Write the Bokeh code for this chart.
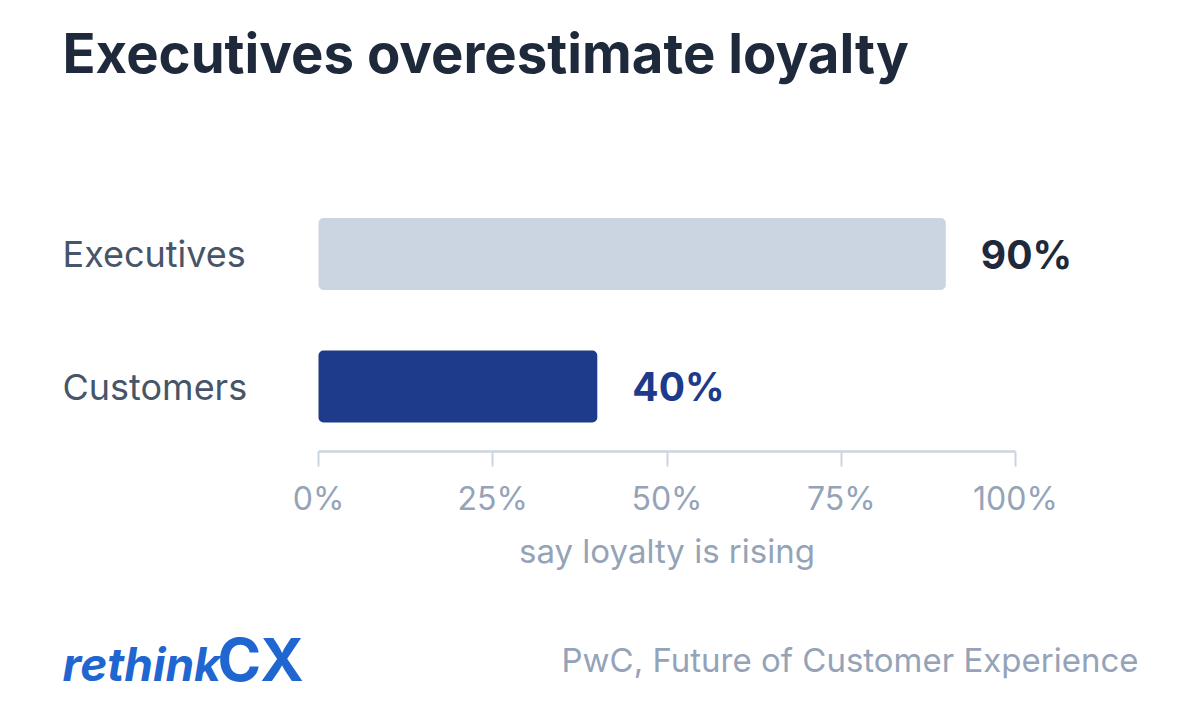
from bokeh.plotting import figure
from bokeh.layouts import column
from bokeh.models import Label, ColumnDataSource, FixedTicker, Range1d
from bokeh.core.properties import value
from bokeh.embed import file_html
from bokeh.resources import INLINE

categories = ["Customers", "Executives"]
values = [40, 90]
value_labels = ["40%", "90%"]
bar_colors = ["#1e3a8a", "#cbd5e1"]
label_colors = ["#1e3a8a", "#1e293b"]
tick_values = [0, 25, 50, 75, 100]
tick_labels = ["0%", "25%", "50%", "75%", "100%"]
title_text = "Executives overestimate loyalty"
axis_title = "say loyalty is rising"
source_text = "PwC, Future of Customer Experience"
logo_a = "rethink"
logo_b = "CX"

FONT = "Inter"
W = 1184
H1 = 530
H2 = 178

# pixel layout of the chart area
X0, X100 = 318, 1015          # pixel positions of 0% and 100%
ROW0, ROW1 = 386, 253.5       # pixel centres of the two bar rows
AXIS_Y = 451                  # pixel position of the axis line
UX = (X100 - X0) / 100.0
UY = ROW0 - ROW1


def X(px):
    return (px - X0) / UX


def Y(py):
    return (ROW0 - py) / UY


p = figure(width=W, height=H1, output_backend="svg", toolbar_location=None,
           x_range=Range1d(X(0), X(W)), y_range=Range1d(Y(AXIS_Y), Y(0)),
           y_axis_location=None,
           min_border_left=0, min_border_right=0, min_border_top=0,
           min_border_bottom=H1 - AXIS_Y)
p.outline_line_color = None
p.background_fill_color = "white"
p.border_fill_color = "white"
p.xgrid.visible = False
p.ygrid.visible = False

idx = list(range(len(categories)))
src = ColumnDataSource(dict(y=idx, cat=categories, val=values, lab=value_labels,
                            color=bar_colors, lcolor=label_colors,
                            lx=[X(62)] * len(categories)))
p.hbar(y="y", left=0, right="val", height=72 / UY, fill_color="color", line_color=None,
       source=src, border_radius=5)

p.text(x="val", y="y", text="lab", source=src, x_offset=35,
       text_font=value(FONT), text_font_style="bold", text_font_size="39px",
       text_color="lcolor", text_baseline="middle", text_align="left")
p.text(x="lx", y="y", text="cat", source=src,
       text_font=value(FONT), text_font_size="36px",
       text_color="#475569", text_baseline="middle", text_align="left")

p.add_layout(Label(x=X(62), y=Y(52.5), text=title_text,
                   text_font=FONT, text_font_style="bold", text_font_size="54.5px",
                   text_color="#1e293b", text_baseline="middle"))

xa = p.xaxis[0]
xa.bounds = (tick_values[0], tick_values[-1])
xa.ticker = FixedTicker(ticks=tick_values)
xa.major_label_overrides = {v: l for v, l in zip(tick_values, tick_labels)}
xa.axis_line_color = "#cbd5e1"
xa.axis_line_width = 2.5
xa.major_tick_line_color = "#cbd5e1"
xa.major_tick_line_width = 2
xa.major_tick_out = 15
xa.major_tick_in = 0
xa.minor_tick_line_color = None
xa.major_label_text_font = FONT
xa.major_label_text_font_size = "32px"
xa.major_label_text_color = "#94a3b8"
xa.major_label_standoff = 12

# lower part: axis title, logo and source
f = figure(width=W, height=H2, output_backend="svg", toolbar_location=None,
           x_range=Range1d(0, W), y_range=Range1d(H1 + H2, H1),
           x_axis_location=None, y_axis_location=None,
           min_border_left=0, min_border_right=0, min_border_top=0, min_border_bottom=0)
f.outline_line_color = None
f.background_fill_color = "white"
f.border_fill_color = "white"
f.xgrid.visible = False
f.ygrid.visible = False

f.add_layout(Label(x=(X0 + X100) / 2, y=550.5, text=axis_title, text_font=FONT,
                   text_font_size="33px", text_color="#94a3b8",
                   text_align="center", text_baseline="middle"))
f.add_layout(Label(x=1138, y=659.5, text=source_text, text_font=FONT, text_font_size="33px",
                   text_color="#94a3b8", text_align="right", text_baseline="middle"))
f.add_layout(Label(x=62, y=663, text=logo_a, text_font=FONT, text_font_style="bold italic",
                   text_font_size="46px", text_color="#1f66d1", text_baseline="middle"))
f.add_layout(Label(x=217, y=658.5, text=logo_b, text_font=FONT, text_font_style="bold",
                   text_font_size="59px", text_color="#1f66d1", text_baseline="middle"))

layout = column(p, f, spacing=0)
open("out.html", "w").write(file_html(layout, INLINE))
